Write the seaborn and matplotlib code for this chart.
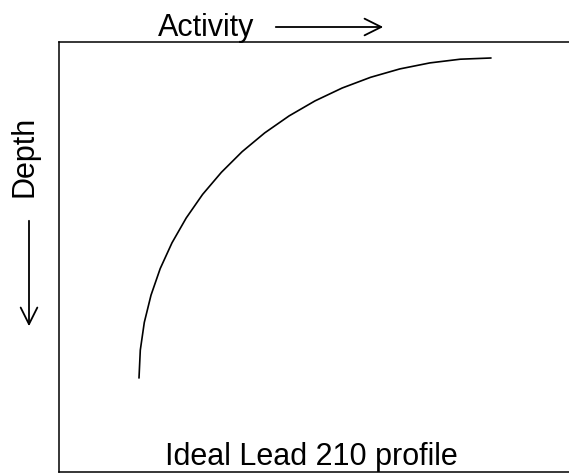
import numpy as np
import pandas as pd
import seaborn as sns
import matplotlib.pyplot as plt

activity = [432, 401.3, 370.9, 340.9, 311.6, 283.2, 256, 230.1, 205.7, 183.1,
            162.4, 143.6, 127.2, 113, 101.2, 92, 85.3, 81.3, 80]
depth = [16, 17.2, 20.9, 26.9, 35.3, 46.0, 58.9, 73.9, 90.9, 109.7,
         130.3, 152.4, 176, 200.8, 226.6, 253.2, 280.4, 308.1, 336]

x_label = "Activity"
y_label = "Depth"
caption = "Ideal Lead 210 profile"

sns.set_style("white")
plt.rcParams["font.family"] = ["Liberation Sans", "DejaVu Sans"]
plt.rcParams["text.color"] = "black"

fig = plt.figure(figsize=(5.69, 4.75), dpi=100)
ax = fig.add_axes([59 / 569, 3 / 475, 530 / 569, 430 / 475])

profile_df = pd.DataFrame({"activity": activity, "depth": depth})
sns.lineplot(data=profile_df, x="activity", y="depth", sort=False,
             estimator=None, color="black", linewidth=1.2, ax=ax)

ax.set_xlim(0, 530)
ax.set_ylim(430, 0)
ax.set_xticks([])
ax.set_yticks([])
ax.set_xlabel("")
ax.set_ylabel("")
for side in ["top", "left", "bottom", "right"]:
    ax.spines[side].set_color("black")
    ax.spines[side].set_linewidth(1.1)

arrow_style = dict(arrowstyle="->,head_length=1.2,head_width=0.6",
                   color="black", lw=1.3)

# labels with arrows outside the frame
ax.text(147, -6, x_label, ha="center", va="baseline", fontsize=22, clip_on=False)
ax.annotate("", xy=(327, -15), xytext=(214, -15), annotation_clip=False,
            arrowprops=arrow_style)

ax.text(-34, 114, y_label, ha="center", va="center", rotation=90,
        fontsize=22, clip_on=False)
ax.annotate("", xy=(-30, 287), xytext=(-30, 176), annotation_clip=False,
            arrowprops=arrow_style)

ax.text(252.5, 423, caption, ha="center", va="baseline", fontsize=22)

fig.savefig("out.png", dpi=100)
